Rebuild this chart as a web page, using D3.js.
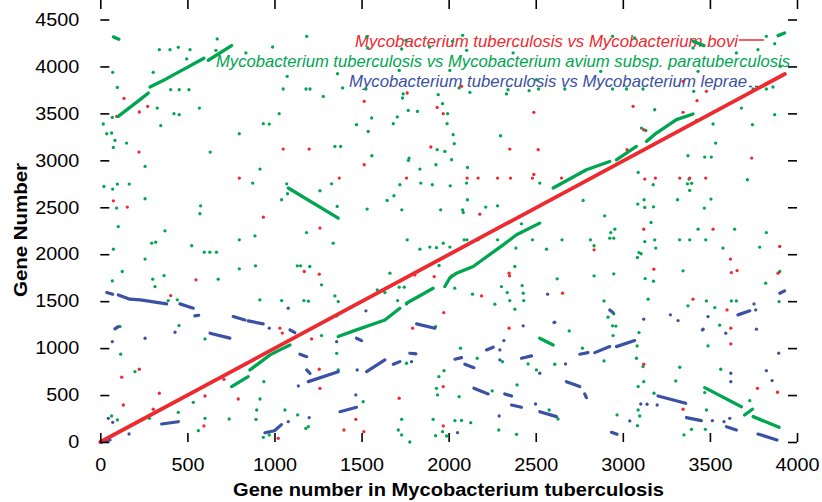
<!DOCTYPE html>
<html>
<head>
<meta charset="utf-8">
<script src="https://cdn.jsdelivr.net/npm/d3@7"></script>
<style>
  body { margin: 0; background: #fff; }
  text { font-family: "Liberation Sans", Arial, Helvetica, sans-serif; }
</style>
</head>
<body>
<svg id="chart" width="822" height="502"></svg>
<script>
// colours of the three comparisons
var red = "#ec2a30", green = "#00a550", blue = "#3b51a3";

var xTicks = [0, 500, 1000, 1500, 2000, 2500, 3000, 3500, 4000];
var yTicks = [0, 500, 1000, 1500, 2000, 2500, 3000, 3500, 4000, 4500];

var legendNames = [
  "Mycobacterium tuberculosis vs Mycobacterium bovi",
  "Mycobacterium tuberculosis vs Mycobacterium avium subsp. paratuberculosis",
  "Mycobacterium tuberculosis vs Mycobacterium leprae"
];

// syntenic runs (start / bend / end points in gene numbers)
var redRuns = [
  [[0, 0], [3930, 3920]]
];

var greenRuns = [
  [[8, 0], [75, 75]],
  [[103, 3468], [228, 3646], [276, 3717]],
  [[285, 3781], [381, 3870], [457, 3948], [595, 4087]],
  [[620, 4066], [754, 4222]],
  [[75, 4315], [107, 4290]],
  [[1079, 2705], [1366, 2385]],
  [[754, 590], [849, 696]],
  [[859, 768], [975, 928], [1031, 981], [1089, 1034]],
  [[1366, 1123], [1471, 1194], [1634, 1300], [1720, 1425]],
  [[1758, 1478], [1911, 1638]],
  [[1978, 1656], [2007, 1748], [2045, 1798], [2141, 1869], [2313, 2100], [2390, 2207], [2523, 2331]],
  [[2600, 2705], [2791, 2900], [2925, 2988]],
  [[2963, 3006], [3078, 3148]],
  [[3136, 3202], [3193, 3291], [3308, 3433], [3403, 3494]],
  [[3403, 4268], [3466, 4222]],
  [[3891, 4328], [3929, 4357]],
  [[3470, 579], [3681, 376]],
  [[3699, 288], [3744, 349]],
  [[3748, 270], [3897, 157]],
  [[2523, 1105], [2600, 1034]]
];

var blueRuns = [
  [[0, 0], [56, 21]],
  [[37, 1592], [71, 1574]],
  [[103, 1567], [170, 1521], [230, 1514], [381, 1471]],
  [[457, 1471], [534, 1425]],
  [[543, 1343], [565, 1350]],
  [[763, 1336], [830, 1300]],
  [[849, 1290], [935, 1258]],
  [[84, 1205], [103, 1229]],
  [[630, 1159], [744, 1106]],
  [[352, 192], [448, 216]],
  [[945, 99], [1000, 120], [1040, 185]],
  [[1816, 1258], [1921, 1212]],
  [[1089, 1194], [1117, 1165]],
  [[1471, 1105], [1500, 1080]],
  [[1146, 935], [1185, 909]],
  [[1185, 768], [1204, 732]],
  [[1194, 643], [1366, 749]],
  [[1529, 749], [1634, 874]],
  [[1682, 828], [1720, 856]],
  [[1777, 945], [1812, 938]],
  [[1376, 323], [1471, 370]],
  [[2036, 882], [2074, 899]],
  [[2093, 828], [2145, 792]],
  [[2145, 573], [2227, 512]],
  [[2217, 981], [2256, 1010]],
  [[2322, 512], [2361, 490]],
  [[2361, 394], [2418, 370]],
  [[2418, 892], [2476, 917]],
  [[2523, 323], [2619, 270]],
  [[2676, 643], [2753, 590]],
  [[2753, 935], [2800, 952]],
  [[2839, 952], [2925, 1016]],
  [[2963, 1016], [3068, 1080]],
  [[2781, 512], [2791, 472]],
  [[2935, 103], [2967, 82]],
  [[3202, 490], [3361, 412]],
  [[3365, 259], [3451, 227]],
  [[3595, 163], [3652, 128]],
  [[3776, 85], [3885, 21]],
  [[3661, 1354], [3729, 1397]],
  [[3901, 1585], [3929, 1610]],
  [[2925, 1407], [2944, 1378]]
];

// isolated hits
var greenDots = [
  [17,3387],[37,3283],[65,3291],[71,3937],[75,3138],[84,3212],[69,3457],[98,3777],[151,3184],[257,2935],
  [304,3937],[327,3557],[347,3369],[339,4179],[400,4179],[404,3753],[423,3497],[448,4204],[453,3753],[453,3486],
  [496,4080],[509,3753],[515,4179],[569,3557],[631,3088],[671,4293],[664,4172],[798,3283],[836,4144],[936,3390],
  [970,3386],[989,4207],[917,2907],[1027,3497],[1050,3760],[1073,3895],[1185,4321],[1181,3760],[1204,3760],[1280,3681],
  [1347,3148],[1380,3148],[1362,3923],[1391,3771],[1471,3380],[1529,4314],[1535,4197],[1525,3760],[1538,3308],[1558,3451],
  [1559,3049],[1682,3390],[1705,3462],[1716,3958],[1730,4186],[1735,3664],[1739,3707],[1754,4278],[1768,3532],[1773,3024],
  [1821,3521],[1835,2907],[1890,4207],[1927,2953],[1934,3113],[1940,3699],[1965,3603],[1978,3095],[1994,3497],[1991,3390],
  [2007,3958],[2017,3006],[2022,4268],[2026,3273],[2032,3177],[2060,3771],[2080,4331],[2103,4172],[2108,2924],[2122,3724],
  [2298,3262],[2332,3707],[2341,3753],[2370,4144],[2462,3742],[2504,3859],[2516,3760],
  [3403,4197],[3432,3948],[3407,3735],[3183,3539],[2873,3948],[2941,3760],[3021,3760],[3116,3760],[2667,3760],[2941,4321],
  [3068,4303],[3652,4144],[3681,3557],[3748,3760],[3824,3760],[3776,4179],[3824,4321],[3872,4243],[3872,3486],[3905,4001],
  [3862,3781],[3744,3380],[3518,3387],[3533,3184],[3374,3049],[3470,3035],[3508,3035],[3107,3344],[3132,3318],[3423,3425],
  [21,2722],[71,2694],[98,2747],[166,2747],[257,2591],[94,2491],[103,2295],[75,2054],[69,1716],[126,1816],
  [257,1948],[295,2118],[318,2128],[371,2249],[301,1734],[314,1655],[366,1773],[390,1506],[442,1514],[452,1240],
  [525,2090],[576,2516],[572,2431],[597,2022],[629,2022],[667,2022],[677,1734],[798,2153],[798,1844],[875,2758],
  [888,2196],[891,1876],[916,1514],
  [1070,2750],[1041,2580],[1075,2644],[1261,2676],[1328,2750],[1360,2509],[1532,2481],[1184,2231],[1337,2118],[1131,1876],
  [1150,1876],[1203,1869],[1270,1674],[1041,1506],[1169,1506],[1195,1500],[1347,1556],[1366,1496],[1357,1343],[1647,2573],
  [1686,2623],[1720,2740],[1769,2999],[1731,2473],[1762,2153],[1840,2758],[1906,2740],[1954,2473],[1835,2054],[1892,2076],
  [1930,2070],[1969,2118],[2007,2076],[2009,2729],[1945,1880],[2080,2473],[2084,2445],[2103,2758],[2108,2580],[2089,2153],
  [2105,2153],[2169,2153],[2213,2502],[2281,2516],[2281,2153],[2386,2065],[2380,1869],[2418,2324],[2481,2153],[2562,2054],
  [1590,1620],[1634,1592],[1663,1798],[1716,1649],[1745,1649],[1707,1506],[2137,1574],[2303,1655],[2336,1592],[2351,1506],
  [2380,1415],[2422,1666],[2428,1585],[2431,1506],[2265,1468],[2035,1638],
  [3088,2871],[3174,2740],[3122,2580],[3086,2534],[3126,2498],[3176,2505],[3314,2580],[3371,2750],[3395,2755],[3380,2800],
  [3384,2679],[3468,2491],[3506,2587],[3715,2793],[2523,2758],[2772,2573],[2896,2409],[2651,2153],[2814,2153],[2835,2090],
  [2931,2231],[2954,2267],[2925,2171],[2948,2171],[3162,2338],[3126,2135],[3183,2153],[3189,2065],[3093,2018],[3105,2005],
  [3084,1965],[3326,2153],[3384,2153],[3432,2267],[3476,2153],[3575,2065],[3642,2267],[3824,2231],[3786,2076],[3901,1816],
  [3820,1692],[3346,1823],[2623,1738],[2835,1770],[2948,1791],[3128,1741],[3176,1713],[2892,1503],[3145,1521],[3374,1450],
  [3480,1503],[3528,1432],[3623,1503],[3652,1503],[3897,1496],[2915,1329],[2948,1365],[2941,1237],[2960,1235],[3556,1244],
  [113,1229],[117,935],[199,749],[65,277],[98,235],[282,252],[448,316],[534,423],[563,121],[601,252],
  [601,1098],[740,245],[792,785],[894,242],[898,341],[917,458],[939,643],[936,50],[970,75],
  [1270,1133],[1357,945],[1366,768],[1758,839],[1060,341],[1133,288],[1194,163],[1180,145],[1509,430],[1730,242],
  [1711,128],[1730,75],[1777,0],[1911,242],[1925,67],[1936,501],[1930,572],[1944,696],[1973,760],[1965,110],
  [1988,64],[2036,227],[2074,230],[2060,483],[2068,999],[2127,206],[2164,892],[2250,544],[2288,128],[2309,856],
  [2390,82],[2393,608],[2456,832],[2504,768],[1802,945],[1925,1229],
  [2692,1183],[2768,999],[2609,828],[2628,245],[2577,341],[2892,864],[2944,1133],[3093,1165],[3082,1023],[3078,892],
  [3116,803],[3120,643],[3088,590],[3088,341],[3097,277],[3084,174],[2967,288],[3179,519],[3304,650],[3327,796],
  [3351,75],[3394,135],[3474,135],[3480,341],[3470,526],[3489,1023],[3562,775],[3729,440]
];

var redDots = [
  [94,3468],[136,3660],[224,3515],[272,3575],[222,3088],
  [1050,3120],[1199,3120],[1515,3628],[1515,2953],[1762,3717],[1934,3564],[1969,3497],[1898,3142],[2074,3788],[2351,3120],
  [2489,3511],[2514,3113],[3059,3575],[3346,3511],[3426,3635],[3480,3735],[3346,3841],[3120,3326],[3024,3113],[3740,3024],
  [75,2569],[155,2502],[404,1560],[549,1727],[798,2811],[936,2395],
  [1372,2811],[1758,2811],[2106,2811],[2169,2811],[2281,2811],[2355,2811],[2481,2811],[2489,2850],[1261,2278],[2179,2427],
  [1171,1816],[1257,1788],[1917,1762],[2017,1770],[1806,1780],[2347,1798],[2350,1770],[2189,1556],[1972,1378],[2347,1212],
  [1031,1212],[1045,1160],
  [2648,2811],[3126,2800],[3187,2811],[3327,2811],[3384,2811],[3476,2811],[3120,2267],[3518,2267],[2835,2047],[3901,2082],
  [3618,1948],[3623,1805],[3656,1826],[3178,1841],[3891,1798],[2654,1585],[3403,1521],[3598,1407],[3620,1212],
  [123,690],[224,775],[132,394],[339,519],[304,349],[601,490],[710,668],[792,458],[595,171],[1022,39],
  [1213,1098],[1257,775],[1261,572],[1467,242],[1399,128],[1513,110],[1716,466],[1793,1212],[1969,590],[1969,171],
  [3120,828],[3346,349],[3620,1045],[3773,572],[3888,530]
];

var blueDots = [
  [1079,1425],[1525,1397],[1758,1471],[2428,1237],[2568,1574],[2609,1276],[3120,1308],[3273,1354],[3317,1293],[3489,1336],
  [3753,1471],[3763,1407],[3461,1202],[3767,1202],
  [69,1069],[46,252],[71,210],[165,85],[257,1105],[429,1169],[970,1212],
  [1467,501],[1475,768],[1137,597],[1199,259],[1079,216],[1357,1069],[1787,856],[2290,277],[2294,981],
  [2294,874],[2317,1080],[2499,405],[2051,99],
  [2605,1272],[2523,732],[3040,224],[3103,405],[3139,402],[3197,394],[2671,832],[3457,1194],[3591,1159],[3620,732],
  [3620,643],[3824,760],[3857,654],[3895,946],[3514,227],[3581,216],[3614,252]
];

var svg = d3.select("#chart");

var x = d3.scaleLinear().domain([0, 4000]).range([100.3, 797]);
var y = d3.scaleLinear().domain([0, 4500]).range([442, 19.5]);

var left = x(0), right = x(4000), top = y(4500), bottom = y(0);

/*** LEGEND (drawn under the data, as in the original) ***/
var legend = svg.append("g");
var legendRows = [
  {name: legendNames[0], col: red,   start: 355, end: 738, base: 46.5},
  {name: legendNames[1], col: green, start: 216, end: 790, base: 66.5},
  {name: legendNames[2], col: blue,  start: 349, end: 747, base: 87}
];
legend.selectAll("text")
  .data(legendRows)
  .enter()
    .append("text")
    .attr("x", function(d) { return d.start; })
    .attr("y", function(d) { return d.base; })
    .attr("textLength", function(d) { return d.end - d.start; })
    .attr("lengthAdjust", "spacingAndGlyphs")
    .attr("font-size", 16.5)
    .attr("font-style", "italic")
    .attr("fill", function(d) { return d.col; })
    .text(function(d) { return d.name; });

legend.append("line")
  .attr("x1", 739).attr("x2", 764).attr("y1", 40).attr("y2", 40)
  .attr("stroke", red).attr("stroke-width", 1.5);
legend.append("line")
  .attr("x1", 749).attr("x2", 766).attr("y1", 86.5).attr("y2", 86.5)
  .attr("stroke", blue).attr("stroke-width", 1.5)
  .attr("stroke-dasharray", "3,3");

/*** DATA ***/
var plot = svg.append("g");
var line = d3.line()
  .x(function(d) { return x(d[0]); })
  .y(function(d) { return y(d[1]); });

function drawRuns(runs, col, w) {
  plot.append("g")
    .selectAll("path")
    .data(runs)
    .enter()
      .append("path")
      .attr("d", line)
      .attr("fill", "none")
      .attr("stroke", col)
      .attr("stroke-width", w)
      .attr("stroke-linecap", "round")
      .attr("stroke-linejoin", "round");
}

function drawDots(dots, col) {
  plot.append("g")
    .selectAll("circle")
    .data(dots)
    .enter()
      .append("circle")
      .attr("cx", function(d) { return x(d[0]); })
      .attr("cy", function(d) { return y(d[1]); })
      .attr("r", 1.65)
      .attr("fill", col);
}

drawDots(greenDots, green);
drawDots(redDots, red);
drawDots(blueDots, blue);
drawRuns(greenRuns, green, 3.3);
drawRuns(blueRuns, blue, 3.2);
drawRuns(redRuns, red, 3.8);

/*** AXES ***/
function styleAxis(g) {
  g.select(".domain").remove();
  g.selectAll(".tick line").attr("stroke", "#000").attr("stroke-width", 1.6);
  g.selectAll(".tick text")
    .attr("font-size", 18)
    .attr("fill", "#000")
    .attr("font-family", "'Liberation Sans', Arial, sans-serif")
    .attr("textLength", function(d) { return String(d).length * 11; })
    .attr("lengthAdjust", "spacingAndGlyphs");
}

svg.append("g")
  .attr("transform", "translate(0," + bottom + ")")
  .call(d3.axisBottom(x).tickValues(xTicks).tickSizeInner(-9).tickSizeOuter(0).tickPadding(16).tickFormat(d3.format("d")))
  .call(styleAxis);

svg.append("g")
  .attr("transform", "translate(0," + top + ")")
  .call(d3.axisTop(x).tickValues(xTicks).tickSizeInner(-9).tickSizeOuter(0).tickFormat(""))
  .call(styleAxis);

svg.append("g")
  .attr("transform", "translate(" + left + ",0)")
  .call(d3.axisLeft(y).tickValues(yTicks).tickSizeInner(-9).tickSizeOuter(0).tickPadding(21).tickFormat(d3.format("d")))
  .call(styleAxis);

svg.append("g")
  .attr("transform", "translate(" + right + ",0)")
  .call(d3.axisRight(y).tickValues(yTicks).tickSizeInner(-9).tickSizeOuter(0).tickFormat(""))
  .call(styleAxis);

svg.append("rect")
  .attr("x", left).attr("y", top)
  .attr("width", right - left).attr("height", bottom - top)
  .attr("fill", "none")
  .attr("stroke", "#000")
  .attr("stroke-width", 2);

/*** TITLES ***/
svg.append("text")
  .attr("x", 448.5).attr("y", 496)
  .attr("text-anchor", "middle")
  .attr("font-size", 18)
  .attr("font-weight", "bold")
  .attr("textLength", 431)
  .attr("lengthAdjust", "spacingAndGlyphs")
  .text("Gene number in Mycobacterium tuberculosis");

svg.append("text")
  .attr("transform", "translate(26.5,230) rotate(-90)")
  .attr("text-anchor", "middle")
  .attr("font-size", 18)
  .attr("font-weight", "bold")
  .attr("textLength", 134)
  .attr("lengthAdjust", "spacingAndGlyphs")
  .text("Gene Number");
</script>
</body>
</html>
